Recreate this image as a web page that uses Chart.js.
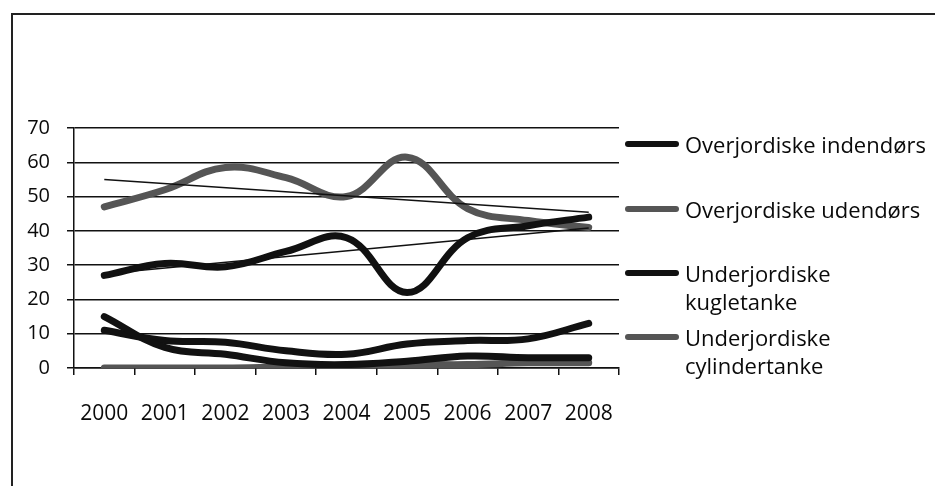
<!DOCTYPE html>
<html>
<head>
<meta charset="utf-8">
<script src="https://cdn.jsdelivr.net/npm/chart.js@4/dist/chart.umd.min.js"></script>
<style>
  html, body { margin: 0; padding: 0; background: #fff; }
  #wrap { position: relative; width: 935px; height: 486px; overflow: hidden; background: #fff; }
  #frame { position: absolute; left: 11px; top: 13px; width: 930px; height: 480px;
           border-left: 2px solid #222; border-top: 2px solid #222; }
  #c { position: absolute; left: 0; top: 0; }
  .lg { position: absolute; left: 625px; font-family: "Open Sans", sans-serif; font-size: 22px;
        line-height: 28px; color: #0a0a0a; }
  .lg .sw { position: absolute; left: 0; width: 54px; height: 6px; border-radius: 3px; }
  .lg .tx { position: absolute; left: 60px; width: 252px; white-space: normal; }
</style>
</head>
<body>
<div id="wrap">
  <div id="frame"></div>
  <canvas id="c" width="935" height="486"></canvas>
  <div id="legend"></div>
</div>
<script>
// ---- data ----
const years = ['2000', '2001', '2002', '2003', '2004', '2005', '2006', '2007', '2008'];
const overjordiskeIndendors = [27, 30.5, 29.5, 34, 38, 22, 38, 41.5, 44];
const overjordiskeUdendors = [47, 52, 58.5, 55.5, 50, 61.5, 46.5, 43, 41];
const underjordiskeKugletanke = [15, 6, 4, 1.5, 1, 2, 3.5, 3, 3];
const underjordiskeCylindertanke = [0, 0, 0, 0.3, 0.5, 1, 1, 1.5, 1.5];
const unlabelledSeries = [11, 8, 7.5, 5, 4, 7, 8, 8.5, 13];
const trendIndendors = [27.5, 40.8];   // linear trend, values at 2000 and 2008
const trendUdendors = [55, 45.4];      // linear trend, values at 2000 and 2008
const yMin = 0, yMax = 70, yStep = 10;

const seriesNames = ['Overjordiske indendørs', 'Overjordiske udendørs',
                     'Underjordiske kugletanke', 'Underjordiske cylindertanke'];
const BLACK = '#111111', GRAY = '#555555';
const seriesColors = [BLACK, GRAY, BLACK, GRAY];

function thick(label, data, color) {
  return { label, data, borderColor: color, backgroundColor: color, borderWidth: 7,
           pointRadius: 0, tension: 0.4, borderCapStyle: 'round', borderJoinStyle: 'round',
           fill: false, order: 1 };
}
function trend(data) {
  return { label: '', data: [{ x: years[0], y: data[0] }, { x: years[years.length - 1], y: data[1] }],
           borderColor: '#111', borderWidth: 1.5, pointRadius: 0, tension: 0, fill: false, order: 0 };
}

const FONT = '"Open Sans", sans-serif';
new Chart(document.getElementById('c'), {
  type: 'line',
  data: {
    labels: years,
    datasets: [
      thick(seriesNames[0], overjordiskeIndendors, seriesColors[0]),
      thick(seriesNames[1], overjordiskeUdendors, seriesColors[1]),
      thick(seriesNames[2], underjordiskeKugletanke, seriesColors[2]),
      thick(seriesNames[3], underjordiskeCylindertanke, seriesColors[3]),
      thick('', unlabelledSeries, BLACK),
      trend(trendIndendors),
      trend(trendUdendors)
    ]
  },
  options: {
    responsive: false,
    animation: false,
    devicePixelRatio: 1,
    layout: { padding: { left: 10, right: 316, top: 128, bottom: 58 } },
    plugins: { legend: { display: false }, tooltip: { enabled: false } },
    scales: {
      x: {
        offset: true,
        grid: { offset: true, drawOnChartArea: false, drawTicks: true, tickLength: 7,
                color: '#111', lineWidth: 1.5 },
        border: { display: true, color: '#111', width: 1.5 },
        ticks: { font: { family: FONT, size: 21 }, color: '#0a0a0a', padding: 26, maxRotation: 0 },
        afterFit: (s) => { s.height = 60; }
      },
      y: {
        min: yMin, max: yMax,
        grid: { color: '#111', lineWidth: 1.5, tickLength: 7 },
        border: { display: true, color: '#111', width: 1.5 },
        ticks: { stepSize: yStep, font: { family: FONT, size: 20 }, color: '#0a0a0a', padding: 17 },
        afterFit: (s) => { s.width = 64; }
      }
    }
  }
});

// ---- HTML legend built from series names/colours ----
const legendY = [144, 209, 273, 337];
const lg = document.getElementById('legend');
seriesNames.forEach((name, i) => {
  const item = document.createElement('div');
  item.className = 'lg';
  item.style.top = (legendY[i] - 14) + 'px';
  const sw = document.createElement('div');
  sw.className = 'sw';
  sw.style.top = '11px';
  sw.style.background = seriesColors[i];
  const tx = document.createElement('div');
  tx.className = 'tx';
  tx.textContent = name;
  item.appendChild(sw);
  item.appendChild(tx);
  lg.appendChild(item);
});
</script>
</body>
</html>
